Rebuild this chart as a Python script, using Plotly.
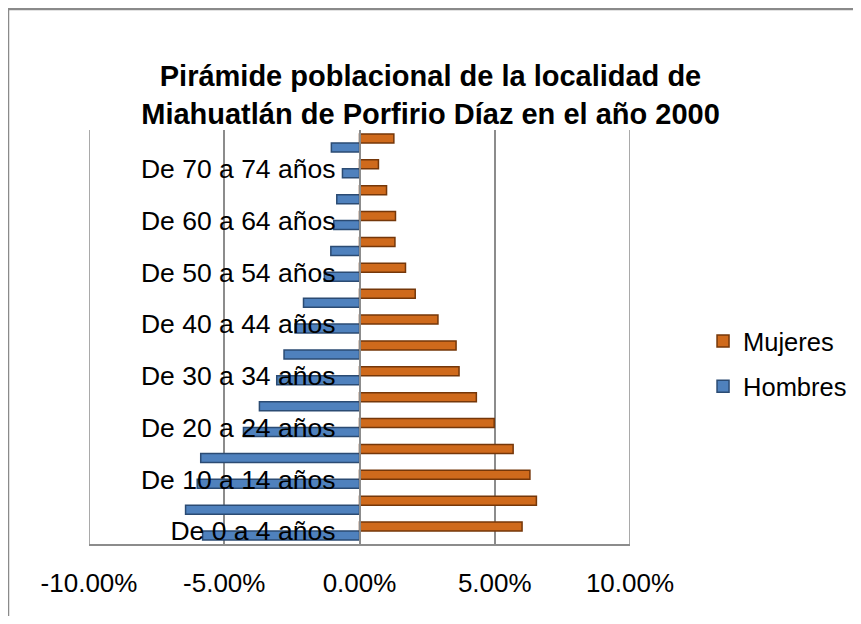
import plotly.graph_objects as go

categorias = ["De 0 a 4 años", "De 5 a 9 años", "De 10 a 14 años", "De 15 a 19 años",
              "De 20 a 24 años", "De 25 a 29 años", "De 30 a 34 años", "De 35 a 39 años",
              "De 40 a 44 años", "De 45 a 49 años", "De 50 a 54 años", "De 55 a 59 años",
              "De 60 a 64 años", "De 65 a 69 años", "De 70 a 74 años", "De 75 años y más"]
hombres = [-5.80, -6.43, -6.00, -5.87, -4.29, -3.70, -3.06, -2.79,
           -2.38, -2.07, -1.30, -1.06, -0.95, -0.84, -0.63, -1.04]
mujeres = [6.01, 6.54, 6.30, 5.68, 4.98, 4.32, 3.68, 3.57,
           2.90, 2.06, 1.70, 1.31, 1.33, 1.00, 0.70, 1.27]
x_ticks = [-10, -5, 0, 5, 10]
x_labels = ["-10.00%", "-5.00%", "0.00%", "5.00%", "10.00%"]

grid = '#8c8c8c'

fig = go.Figure()
fig.add_trace(go.Bar(y=categorias, x=hombres, name='Hombres', orientation='h',
                     legendgroup='h', legendrank=2,
                     marker=dict(color='#4f81bd', line=dict(color='#2b4b73', width=1.5))))
fig.add_trace(go.Bar(y=categorias, x=mujeres, name='Mujeres', orientation='h',
                     legendgroup='m', legendrank=1,
                     marker=dict(color='#cf6a1c', line=dict(color='#753709', width=1.5))))

# page body has an 8px margin, so the figure is drawn 8px smaller
fig.update_layout(
    width=845, height=608,
    paper_bgcolor='white', plot_bgcolor='white',
    font=dict(family='Liberation Sans, Arial', size=26, color='black'),
    title=dict(text='<b>Pirámide poblacional de la localidad de<br>Miahuatlán de Porfirio Díaz en el año 2000</b>',
               x=0.5, xref='container', xanchor='center',
               y=1 - 78 / 608, yref='container', yanchor='middle',
               font=dict(size=29, color='black')),
    barmode='group', bargap=0.3, bargroupgap=0,
    margin=dict(l=81, r=223, t=122, b=72, autoexpand=False),
    legend=dict(x=1.135, y=0.435, xanchor='left', yanchor='middle',
                traceorder='grouped', tracegroupgap=9,
                font=dict(size=25.5)),
    shapes=[dict(type='rect', xref='paper', yref='paper',
                 x0=(0 - 81) / 541, x1=2, y0=-1, y1=(536 - 1) / 414,
                 line=dict(color='#8a8a8a', width=2.5), layer='below'),
            dict(type='line', xref='x', yref='paper', x0=x_ticks[0], x1=x_ticks[0],
                 y0=0, y1=1, line=dict(color=grid, width=1.5), layer='below'),
            dict(type='line', xref='x', yref='paper', x0=x_ticks[-1], x1=x_ticks[-1],
                 y0=0, y1=1, line=dict(color=grid, width=1.5), layer='below')],
)
fig.update_xaxes(range=[-10, 10], tickvals=x_ticks, ticktext=x_labels,
                 showgrid=True, gridcolor=grid, gridwidth=1.5,
                 zeroline=False, showline=True, linecolor=grid, linewidth=1.5,
                 ticks='', ticklabelstandoff=15, tickfont=dict(size=26))
fig.update_yaxes(tickvals=categorias[0::2], anchor='free', position=0.5,
                 showline=True, linecolor=grid, linewidth=1.5,
                 ticks='', ticklabelstandoff=18, tickfont=dict(size=26.5),
                 showgrid=False)

fig.write_html("out.html")
